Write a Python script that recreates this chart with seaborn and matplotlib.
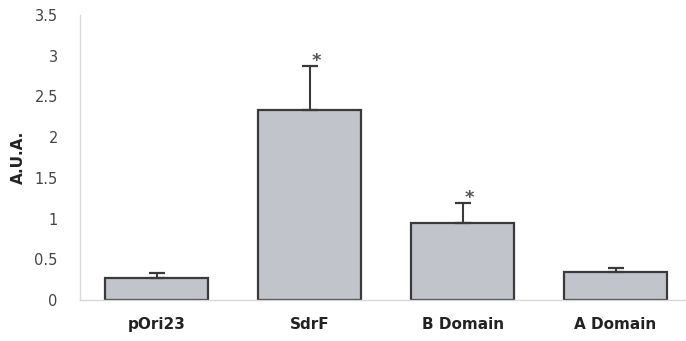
import pandas as pd
import seaborn as sns
import matplotlib
matplotlib.use("Agg")
import matplotlib.pyplot as plt

grupos = ["pOri23", "SdrF", "B Domain", "A Domain"]
valores = [0.27, 2.33, 0.94, 0.35]
erros = [0.06, 0.54, 0.25, 0.04]
signif = ["", "*", "*", ""]

df = pd.DataFrame({"grupo": grupos, "aua": valores})

sns.set_style("white")
plt.rcParams["font.family"] = ["DejaVu Sans"]

fig = plt.figure(figsize=(6.86, 3.41), dpi=100)
ax = fig.add_axes([80 / 686, 41 / 341, 606 / 686, 285 / 341])

sns.barplot(data=df, x="grupo", y="aua", color="#c1c4cb", width=0.675,
            edgecolor="#3a3a3a", linewidth=1.6, saturation=1, ax=ax)
ax.errorbar(range(len(grupos)), valores, yerr=[[0] * len(erros), erros],
            fmt="none", ecolor="#3a3a3a", elinewidth=1.5, capsize=6, capthick=1.6)

for i, (v, e, s) in enumerate(zip(valores, erros, signif)):
    if s:
        ax.text(i + 0.045, v + e - 0.05, s, ha="center", va="bottom",
                fontsize=13, fontweight="bold", color="#555555")

ax.set_ylim(0, 3.5)
ax.set_xlim(-0.5, 3.46)
ax.set_yticks([0, 0.5, 1, 1.5, 2, 2.5, 3, 3.5])
ax.set_yticklabels(["0", "0.5", "1", "1.5", "2", "2.5", "3", "3.5"])
ax.set_xlabel("")
ax.set_ylabel("A.U.A.", fontsize=11, fontweight="bold", labelpad=6, color="#222222")
ax.tick_params(axis="y", labelsize=10.5, colors="#444444", length=0, pad=16)
ax.tick_params(axis="x", labelsize=11, length=0, pad=12)
for lbl in ax.get_xticklabels():
    lbl.set_fontweight("bold")
    lbl.set_color("#222222")

sns.despine(ax=ax, top=True, right=True)
ax.spines["left"].set_color("#d8d8d8")
ax.spines["bottom"].set_color("#d8d8d8")
ax.spines["left"].set_linewidth(1)
ax.spines["bottom"].set_linewidth(1)

fig.savefig("out.png", dpi=100)
